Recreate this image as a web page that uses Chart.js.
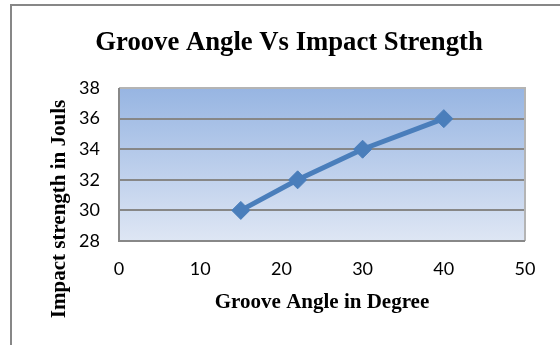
<!DOCTYPE html>
<html>
<head>
<meta charset="utf-8">
<script src="https://cdn.jsdelivr.net/npm/chart.js@4.4.1/dist/chart.umd.min.js"></script>
<style>
  html, body { margin: 0; padding: 0; background: #fff; }
  #wrap { width: 560px; height: 345px; position: relative; }
</style>
</head>
<body>
<div id="wrap"><canvas id="c" width="560" height="345"></canvas></div>
<script>
const chartTitle = "Groove Angle Vs Impact Strength";
const xTitle = "Groove Angle in Degree";
const yTitle = "Impact strength in Jouls";
const grooveAngle = [15, 22, 30, 40];
const impactStrength = [30, 32, 34, 36];
const xTicks = [0, 10, 20, 30, 40, 50];
const yTicks = [28, 30, 32, 34, 36, 38];

const points = grooveAngle.map((x, i) => ({ x: x, y: impactStrength[i] }));

const decor = {
  id: 'decor',
  beforeDraw(chart) {
    const ctx = chart.ctx, a = chart.chartArea;
    ctx.save();
    ctx.fillStyle = '#fff';
    ctx.fillRect(0, 0, chart.width, chart.height);
    ctx.strokeStyle = '#878787';
    ctx.lineWidth = 2;
    ctx.beginPath();
    ctx.moveTo(11, chart.height);
    ctx.lineTo(11, 5);
    ctx.lineTo(chart.width, 5);
    ctx.stroke();
    const g = ctx.createLinearGradient(0, a.top, 0, a.bottom);
    g.addColorStop(0, '#97B5E2');
    g.addColorStop(1, '#DEE6F4');
    ctx.fillStyle = g;
    ctx.fillRect(a.left, a.top, a.right - a.left, a.bottom - a.top);
    ctx.restore();
  },
  afterDraw(chart) {
    const ctx = chart.ctx;
    ctx.save();
    ctx.fillStyle = '#000';
    ctx.font = 'bold 21px "Liberation Serif"';
    ctx.textAlign = 'center';
    ctx.textBaseline = 'middle';
    ctx.translate(60, 209);
    ctx.rotate(-Math.PI / 2);
    ctx.fillText(yTitle, 0, 0);
    ctx.restore();
  },
  beforeDatasetsDraw(chart) {
    const ctx = chart.ctx, a = chart.chartArea;
    ctx.save();
    ctx.lineWidth = 2;
    ctx.strokeStyle = '#B4B4B4';
    ctx.beginPath();
    ctx.moveTo(a.left, a.top);
    ctx.lineTo(a.right, a.top);
    ctx.lineTo(a.right, a.bottom);
    ctx.stroke();
    ctx.strokeStyle = '#888888';
    ctx.beginPath();
    ctx.moveTo(a.left, a.top);
    ctx.lineTo(a.left, a.bottom);
    ctx.lineTo(a.right, a.bottom);
    ctx.stroke();
    ctx.restore();
  }
};

new Chart(document.getElementById('c'), {
  type: 'scatter',
  data: {
    datasets: [{
      data: points,
      showLine: true,
      borderColor: '#4A7EBB',
      backgroundColor: '#4A7EBB',
      borderWidth: 5,
      pointStyle: 'rectRot',
      pointRadius: 9,
      pointBorderWidth: 1,
      pointBorderColor: '#4A7EBB',
      pointBackgroundColor: '#4A7EBB',
      tension: 0
    }]
  },
  options: {
    responsive: false,
    animation: false,
    devicePixelRatio: 1,
    layout: { padding: { left: 18, right: 0, top: 0, bottom: 0 } },
    plugins: {
      legend: { display: false },
      tooltip: { enabled: false },
      title: {
        display: true,
        text: chartTitle,
        color: '#000',
        font: { family: '"Liberation Serif"', size: 26.7, weight: 'bold' },
        padding: { top: 27, bottom: 29 }
      }
    },
    scales: {
      x: {
        type: 'linear',
        min: 0, max: 50,
        afterBuildTicks: s => { s.ticks = xTicks.map(v => ({ value: v })); },
        grid: { display: false, drawTicks: false },
        border: { display: false },
        ticks: { color: '#000', font: { family: 'Lato', size: 18 }, padding: 17 },
        title: {
          display: true, text: xTitle, color: '#000',
          font: { family: '"Liberation Serif"', size: 21, weight: 'bold' },
          padding: { top: 8, bottom: 30 }
        },
        afterFit: s => { s.height = 104; }
      },
      y: {
        type: 'linear',
        min: 28, max: 38,
        afterBuildTicks: s => { s.ticks = yTicks.map(v => ({ value: v })); },
        grid: { display: true, drawTicks: false, color: '#878787', lineWidth: 2 },
        border: { display: false },
        ticks: { color: '#000', font: { family: 'Lato', size: 18 }, padding: 19 },
        afterFit: s => { s.width = 101; }
      },
      y2: {
        type: 'linear',
        position: 'right',
        display: true,
        grid: { display: false, drawTicks: false },
        border: { display: false },
        ticks: { display: false },
        afterFit: s => { s.width = 35; }
      }
    }
  },
  plugins: [decor]
});
</script>
</body>
</html>
